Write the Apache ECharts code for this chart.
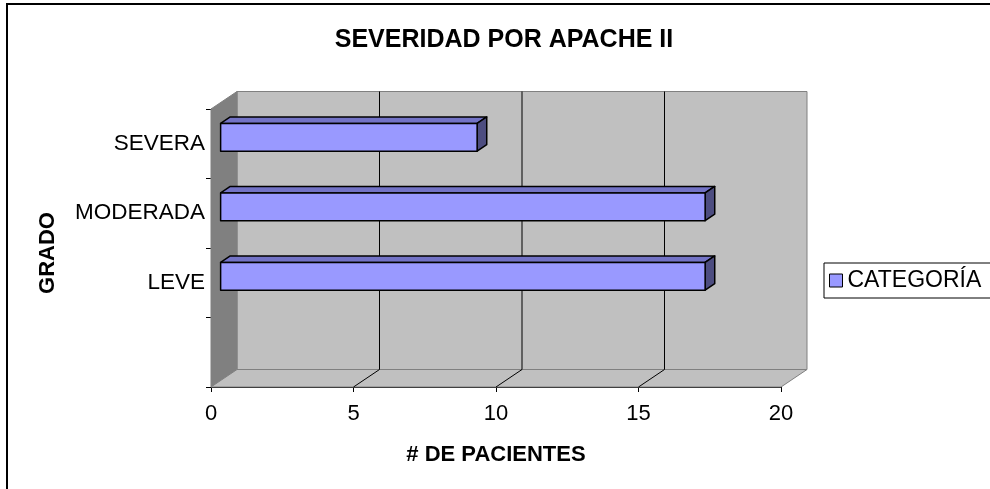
<!DOCTYPE html>
<html>
<head>
<meta charset="utf-8">
<title>Severidad por APACHE II</title>
<script src="https://cdn.jsdelivr.net/npm/echarts@6/dist/echarts.min.js"></script>
<style>
    html, body { margin: 0; padding: 0; background: #fff; }
    #chart { width: 990px; height: 489px; }
</style>
</head>
<body>
<div id="chart"></div>
<script>
// datos (la primera categoria esta vacia, como en el original)
const categorias = ['', 'LEVE', 'MODERADA', 'SEVERA'];
const pacientes = [null, 17, 17, 9];
const xTicks = [0, 5, 10, 15, 20];

const FONT = 'Liberation Sans, Arial, sans-serif';
const DEPTH = [26, -17.5];   // desplazamiento de la pared del fondo (efecto 3D)
const BAR_FRONT = 0.37;      // profundidad de la cara frontal de la barra
const BAR_BACK = 0.74;

const chart = echarts.init(document.getElementById('chart'));

function pt(p, f) {
    return [p[0] + DEPTH[0] * f, p[1] + DEPTH[1] * f];
}

// paredes y suelo del grafico 3D
function renderWalls(params, api) {
    const cs = params.coordSys;
    const left = cs.x, top = cs.y, right = cs.x + cs.width, bottom = cs.y + cs.height;
    const children = [
        {
            type: 'rect',
            shape: { x: left + DEPTH[0], y: top + DEPTH[1], width: cs.width, height: cs.height },
            style: { fill: '#c0c0c0', stroke: '#808080', lineWidth: 1 }
        },
        {
            type: 'polygon',
            shape: { points: [[left, top], pt([left, top], 1), pt([left, bottom], 1), [left, bottom]] },
            style: { fill: '#808080', stroke: '#808080', lineWidth: 1 }
        },
        {
            type: 'polygon',
            shape: { points: [[left, bottom], [right, bottom], pt([right, bottom], 1), pt([left, bottom], 1)] },
            style: { fill: '#c0c0c0', stroke: '#808080', lineWidth: 1 }
        }
    ];
    xTicks.forEach(function (t, i) {
        if (i === 0 || i === xTicks.length - 1) return;
        const x = api.coord([t, 0])[0];
        children.push({
            type: 'line',
            shape: { x1: x + DEPTH[0], y1: top + DEPTH[1], x2: x + DEPTH[0], y2: bottom + DEPTH[1] },
            style: { stroke: '#000', lineWidth: 1 }
        });
        children.push({
            type: 'line',
            shape: { x1: x, y1: bottom, x2: x + DEPTH[0], y2: bottom + DEPTH[1] },
            style: { stroke: '#000', lineWidth: 1 }
        });
    });
    return { type: 'group', children: children };
}

// barra 3D: cara frontal, superior y lateral
function renderBar(params, api) {
    const val = api.value(0);
    if (val == null || isNaN(val)) return;
    const cat = api.value(1);
    const p0 = api.coord([0, cat]);
    const p1 = api.coord([val, cat]);
    const h = api.size([0, 1])[1] * 0.4;
    const a = pt([p0[0], p0[1] - h / 2], BAR_FRONT);
    const b = pt([p1[0], p1[1] - h / 2], BAR_FRONT);
    const c = pt([p1[0], p1[1] + h / 2], BAR_FRONT);
    const a2 = pt([p0[0], p0[1] - h / 2], BAR_BACK);
    const b2 = pt([p1[0], p1[1] - h / 2], BAR_BACK);
    const c2 = pt([p1[0], p1[1] + h / 2], BAR_BACK);
    const line = { stroke: '#000', lineWidth: 1.5, lineJoin: 'round' };
    return {
        type: 'group',
        children: [
            { type: 'polygon', shape: { points: [a, b, b2, a2] }, style: Object.assign({ fill: '#7373c6' }, line) },
            { type: 'polygon', shape: { points: [b, c, c2, b2] }, style: Object.assign({ fill: '#4d4d80' }, line) },
            { type: 'rect', shape: { x: a[0], y: a[1], width: b[0] - a[0], height: h }, style: Object.assign({ fill: '#9999ff' }, line) }
        ]
    };
}

const option = {
    backgroundColor: '#fff',
    animation: false,
    textStyle: { fontFamily: FONT },
    title: {
        text: 'SEVERIDAD POR APACHE II',
        left: 499,
        textAlign: 'center',
        top: 23,
        textStyle: { fontFamily: FONT, fontSize: 25, fontWeight: 'bold', color: '#000' }
    },
    legend: {
        left: 824,
        top: 263,
        orient: 'vertical',
        data: [{ name: 'CATEGORÍA', icon: 'rect', itemStyle: { color: '#9999ff', borderColor: '#000', borderWidth: 1 } }],
        itemWidth: 13,
        itemHeight: 13,
        itemGap: 5,
        padding: [6, 40, 6, 5],
        borderColor: '#000',
        borderWidth: 1,
        textStyle: { fontFamily: FONT, fontSize: 23, color: '#000', padding: [2, 0, 0, 0] }
    },
    graphic: [{
        type: 'rect',
        silent: true,
        shape: { x: 7, y: 4, width: 1000, height: 500 },
        style: { fill: 'none', stroke: '#000', lineWidth: 2 }
    }],
    grid: { left: 211, top: 109, width: 570, height: 278 },
    xAxis: {
        type: 'value',
        min: 0,
        max: 20,
        interval: 5,
        name: '# DE PACIENTES',
        nameLocation: 'middle',
        nameGap: 57,
        nameTextStyle: { fontFamily: FONT, fontSize: 22, fontWeight: 'bold', color: '#000' },
        axisLine: { show: true, lineStyle: { color: '#000', width: 1 } },
        axisTick: { show: true, length: 5, lineStyle: { color: '#000' } },
        axisLabel: { fontFamily: FONT, fontSize: 22, color: '#000', margin: 16 },
        splitLine: { show: false }
    },
    yAxis: {
        type: 'category',
        data: categorias,
        name: 'GRADO',
        nameLocation: 'middle',
        nameRotate: 90,
        nameGap: 152,
        nameTextStyle: { fontFamily: FONT, fontSize: 22, fontWeight: 'bold', color: '#000', padding: [0, 10, 0, 0] },
        axisLine: { show: true, lineStyle: { color: '#000', width: 1 } },
        axisTick: { show: true, length: 5, lineStyle: { color: '#000' } },
        axisLabel: { fontFamily: FONT, fontSize: 22.5, color: '#000', margin: 6 },
        splitLine: { show: false }
    },
    series: [
        {
            type: 'custom',
            name: 'paredes',
            silent: true,
            z: 1,
            renderItem: renderWalls,
            data: [[0, 0]],
            encode: { x: 0, y: 1 }
        },
        {
            type: 'custom',
            name: 'CATEGORÍA',
            z: 3,
            itemStyle: { color: '#9999ff' },
            renderItem: renderBar,
            data: categorias.map(function (c, i) { return [pacientes[i], c]; }),
            encode: { x: 0, y: 1 }
        }
    ]
};

chart.setOption(option);
</script>
</body>
</html>
